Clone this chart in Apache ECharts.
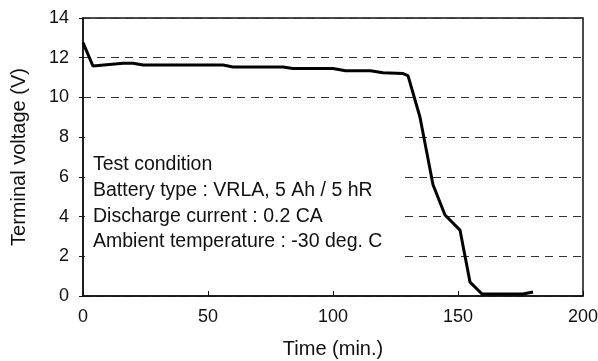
<!DOCTYPE html>
<html>
<head>
<meta charset="utf-8">
<script src="https://cdn.jsdelivr.net/npm/echarts@6/dist/echarts.min.js"></script>
<style>
  html, body { margin: 0; padding: 0; background: #fff; }
  #container { width: 598px; height: 361px; }
</style>
</head>
<body>
<div id="container"></div>
<script>
// discharge curve
var timeMin = [0, 4, 16, 20, 24, 56, 60, 80, 84, 100, 105, 115, 120, 128, 130, 134.8, 140, 144.8, 150.8, 154.8, 159.6, 176, 180];
var voltage = [12.76, 11.58, 11.72, 11.72, 11.63, 11.63, 11.53, 11.53, 11.46, 11.46, 11.34, 11.34, 11.24, 11.2, 11.1, 9.0, 5.6, 4.08, 3.32, 0.7, 0.1, 0.1, 0.2];
var noteLines = [
    'Test condition',
    'Battery type : VRLA, 5 Ah / 5 hR',
    'Discharge current : 0.2 CA',
    'Ambient temperature : -30 deg. C'
];

var font = '"Liberation Sans", Arial, sans-serif';
var lineData = [];
for (var i = 0; i < timeMin.length; i++) {
    lineData.push([timeMin[i], voltage[i]]);
}

var myChart = echarts.init(document.getElementById('container'));
var option = {
    animation: false,
    grid: {
        left: 83,
        right: 15,
        top: 18,
        bottom: 65,
        outerBoundsMode: 'none',
        containLabel: false,
        show: true,
        borderColor: '#111',
        borderWidth: 1.5
    },
    xAxis: {
        type: 'value',
        min: 0,
        max: 200,
        interval: 50,
        name: 'Time (min.)',
        nameLocation: 'middle',
        nameGap: 43,
        nameTextStyle: {fontFamily: font, fontSize: 20, color: '#111'},
        axisLine: {show: true, lineStyle: {color: '#111', width: 1.5}},
        axisTick: {show: true, inside: true, length: 5, lineStyle: {color: '#111'}},
        axisLabel: {fontFamily: font, fontSize: 18, color: '#111', margin: 12},
        splitLine: {show: false}
    },
    yAxis: {
        type: 'value',
        min: 0,
        max: 14,
        interval: 2,
        name: 'Terminal voltage (V)',
        nameLocation: 'middle',
        nameGap: 54,
        nameTextStyle: {fontFamily: font, fontSize: 20, color: '#111'},
        axisLine: {show: true, lineStyle: {color: '#111', width: 1.5}},
        axisTick: {show: true, length: 4, lineStyle: {color: '#111'}},
        axisLabel: {fontFamily: font, fontSize: 18, color: '#111', margin: 14},
        splitLine: {show: true, lineStyle: {color: '#333', width: 1, type: [8, 6]}}
    },
    graphic: [
        {
            type: 'rect',
            z: 50,
            shape: {x: 85, y: 127, width: 320, height: 141},
            style: {fill: '#fff'}
        },
        {
            type: 'text',
            z: 51,
            left: 93,
            top: 152,
            style: {
                text: noteLines.join('\n'),
                fontFamily: font,
                fontSize: 19.5,
                lineHeight: 25.7,
                fill: '#111'
            }
        }
    ],
    series: [
        {
            type: 'line',
            data: lineData,
            symbol: 'none',
            z: 60,
            lineStyle: {color: '#000', width: 3}
        }
    ]
};
myChart.setOption(option);
</script>
</body>
</html>
